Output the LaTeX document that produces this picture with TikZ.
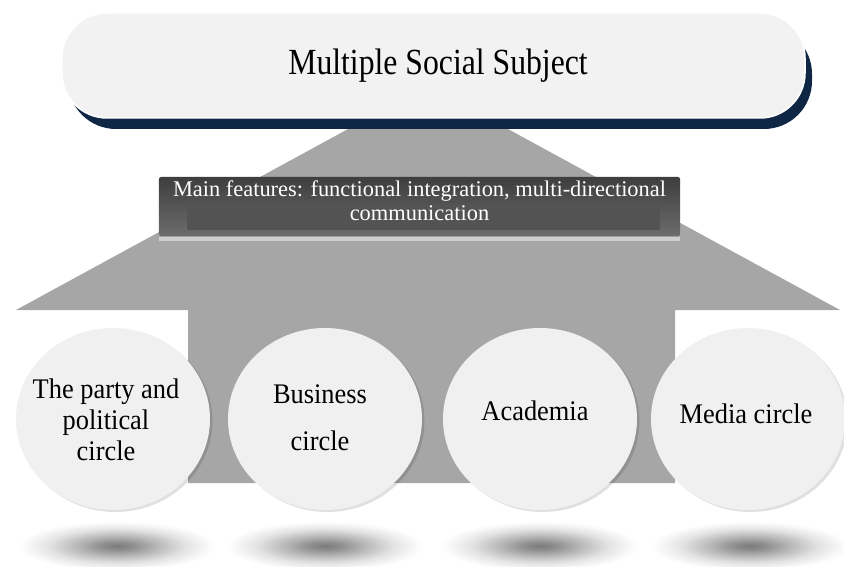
\documentclass[tikz,border=0pt]{standalone}
\usepackage{fontspec}
\setmainfont{Liberation Serif}
\newfontfamily\titleserif[FakeStretch=0.86]{Liberation Serif}
\newfontfamily\discserif[FakeStretch=0.93]{Liberation Serif}
\usetikzlibrary{shapes.geometric,shadows}

\definecolor{paleface}{HTML}{F2F2F2}
\definecolor{discface}{HTML}{F0F0F0}
\definecolor{arrowgray}{HTML}{A6A6A6}
\definecolor{navyrim}{HTML}{0F2744}
\definecolor{bannerdark}{HTML}{3E3E3E}
\definecolor{bannerlight}{HTML}{6C6C6C}
\definecolor{bannerinner}{HTML}{535353}

% soft floor shadow under each disc
\pgfdeclareradialshading{floorshadow}{\pgfpoint{0bp}{0bp}}{%
  color(0bp)=(black!52); color(4bp)=(black!44); color(10bp)=(black!28);
  color(17bp)=(black!11); color(23bp)=(black!2); color(25bp)=(white);
  color(50bp)=(white)}

\tikzset{
  pillbox/.style={draw=white, line width=1.5bp,
    fill=paleface, rounded corners=45bp, minimum width=743bp,
    minimum height=105bp, inner sep=0pt},
  titletext/.style={anchor=base, inner sep=0pt,
    font=\titleserif\fontsize{37}{40}\selectfont},
  disc/.style={ellipse, fill=discface, minimum width=194bp,
    minimum height=182bp, inner sep=0pt,
    drop shadow={shadow xshift=2.5bp, shadow yshift=-2bp, fill=black, opacity=0.12}},
  disclabel/.style={align=center, inner sep=0pt,
    font=\discserif\fontsize{28.5}{31}\selectfont},
  bannerbox/.style={rounded corners=2bp, top color=bannerdark,
    bottom color=bannerlight, minimum width=521bp, minimum height=59bp,
    inner sep=0pt},
  bannertext/.style={anchor=north, align=center, inner sep=0pt,
    text=white, font=\fontsize{22.5}{24}\selectfont},
}

\begin{document}
\begin{tikzpicture}[x=1bp,y=-1bp]
\useasboundingbox (0,0) rectangle (844,567);

% big upward arrow behind everything
\fill[arrowgray] (383,110) -- (473,110) -- (840,310) -- (675,310)
  -- (675,483) -- (188,483) -- (188,310) -- (16,310) -- cycle;

% dark rim under the title pill
\fill[navyrim, rounded corners=48bp] (68,26) rectangle (812,129);
\node[pillbox] (subject) at (433.5,65.5) {};
\node[titletext] (subjecttext) at (438,75) {Multiple Social Subject};

% banner with the main features
\fill[black!19] (159,237) rectangle (680,241);
\node[bannerbox] (features) at (419.5,206.5) {};
\fill[bannerinner] (187,207) rectangle (660,230);
\node[bannertext] (featurestext) at (419.5,181)
  {Main features: functional integration, multi-directional\\communication};

% floor shadows
\foreach \cx in {117,325,540,750}
  \shade[shading=floorshadow] (\cx,546) ellipse [x radius=100bp, y radius=25bp];

% the four circles
\node[disc] (party)    at (113,419) {};
\node[disc] (business) at (325,419) {};
\node[disc] (academia) at (540,419) {};
\node[disc] (media)    at (748,419) {};

\node[disclabel, anchor=north] (partytext) at (106,378.5) {The party and\\political\\circle};
\node[disclabel, anchor=north, font=\discserif\fontsize{28.5}{48}\selectfont]
  (businesstext) at (320,384) {Business\\circle};
\node[disclabel, anchor=base] (academiatext) at (535,420) {Academia};
\node[disclabel, anchor=base] (mediatext) at (746,423) {Media circle};
\end{tikzpicture}
\end{document}
